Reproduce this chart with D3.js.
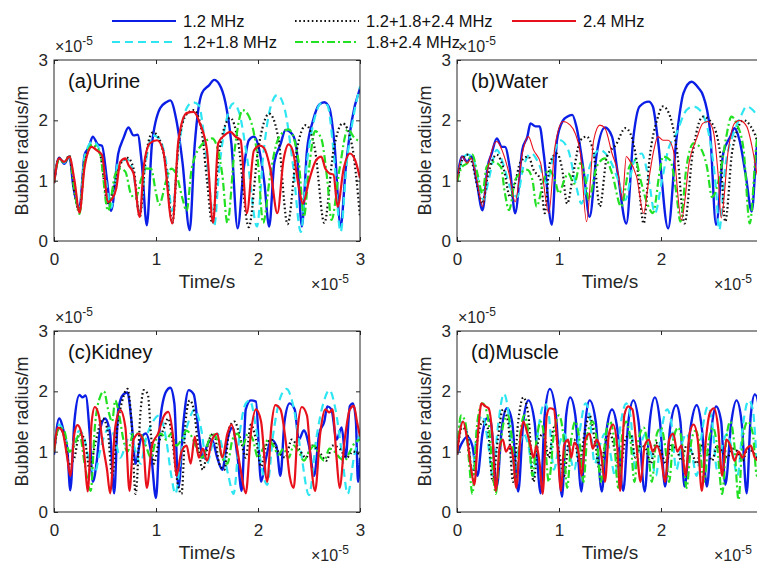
<!DOCTYPE html>
<html>
<head>
<meta charset="utf-8">
<script src="https://cdn.jsdelivr.net/npm/d3@7"></script>
<style>
  body { margin: 0; background: #fff; }
  text { font-family: "Liberation Sans", Arial, sans-serif; }
</style>
</head>
<body>
<div id="chart"></div>
<script>
// series names (legend) and panel titles
const seriesNames = ["1.2 MHz", "1.2+1.8 MHz", "1.2+1.8+2.4 MHz", "1.8+2.4 MHz", "2.4 MHz"];
const panelTitles = ["(a)Urine", "(b)Water", "(c)Kidney", "(d)Muscle"];
const tickValues = [0, 1, 2, 3];

// [time (x1e-5 s), radius (x1e-5 m)]
const urine12 = [[0,0.96],[0.05,1.38],[0.1,1.28],[0.15,1.4],[0.19,0.9],[0.25,0.55],[0.3,1.43],[0.34,1.55],[0.38,1.73],[0.43,1.6],[0.47,1.58],[0.52,1.0],[0.56,0.5],[0.63,1.45],[0.68,1.7],[0.73,1.88],[0.78,1.75],[0.82,1.76],[0.86,1.3],[0.91,0.26],[0.96,1.6],[1.04,2.2],[1.1,2.3],[1.14,2.33],[1.2,2.0],[1.26,1.3],[1.33,0.18],[1.38,1.6],[1.45,2.45],[1.52,2.58],[1.57,2.67],[1.62,2.6],[1.68,2.3],[1.74,1.6],[1.8,0.21],[1.86,1.2],[1.91,1.67],[1.96,1.73],[2.0,1.6],[2.06,1.0],[2.11,0.24],[2.16,1.3],[2.22,1.6],[2.27,1.84],[2.34,1.76],[2.38,1.5],[2.43,0.24],[2.48,1.5],[2.54,2.0],[2.6,2.26],[2.65,2.3],[2.7,2.2],[2.75,1.6],[2.81,0.24],[2.86,1.2],[2.92,2.0],[3.0,2.53]];
const urine1218 = [[0,0.96],[0.05,1.37],[0.1,1.3],[0.15,1.4],[0.2,0.95],[0.25,0.52],[0.3,1.4],[0.38,1.65],[0.45,1.5],[0.52,0.9],[0.56,0.55],[0.63,1.3],[0.72,1.35],[0.78,1.1],[0.84,0.45],[0.9,1.3],[0.97,1.75],[1.03,1.7],[1.1,1.3],[1.16,0.5],[1.22,1.5],[1.3,2.2],[1.36,2.3],[1.42,2.25],[1.48,1.6],[1.53,0.8],[1.57,0.24],[1.62,1.2],[1.69,2.0],[1.76,2.28],[1.82,2.1],[1.9,1.3],[1.99,0.24],[2.05,1.4],[2.12,2.2],[2.19,2.42],[2.26,2.2],[2.34,1.3],[2.42,0.15],[2.48,1.3],[2.55,2.0],[2.62,2.28],[2.68,2.25],[2.74,1.5],[2.81,0.15],[2.87,1.3],[2.94,2.1],[3.0,2.56]];
const urine121824 = [[0,0.96],[0.05,1.37],[0.1,1.3],[0.15,1.42],[0.2,0.8],[0.25,0.5],[0.3,1.3],[0.38,1.58],[0.45,1.45],[0.53,0.6],[0.6,1.0],[0.66,1.3],[0.72,1.38],[0.78,1.2],[0.84,0.4],[0.9,1.4],[0.97,1.8],[1.03,1.7],[1.1,1.2],[1.16,0.3],[1.22,1.6],[1.3,2.1],[1.37,2.17],[1.44,1.9],[1.5,1.0],[1.55,0.3],[1.62,1.5],[1.73,2.04],[1.8,1.7],[1.91,0.23],[2.0,1.5],[2.11,2.11],[2.2,1.7],[2.29,0.28],[2.38,1.5],[2.47,1.92],[2.56,1.5],[2.65,0.3],[2.74,1.5],[2.83,1.95],[2.92,1.6],[3.0,0.4]];
const urine1824 = [[0,0.96],[0.05,1.35],[0.1,1.3],[0.15,1.4],[0.2,0.85],[0.25,0.45],[0.3,1.3],[0.38,1.6],[0.45,1.45],[0.53,0.5],[0.6,1.1],[0.65,1.2],[0.7,1.15],[0.75,0.8],[0.8,0.7],[0.85,1.0],[0.9,1.2],[0.95,1.2],[1.0,0.8],[1.03,0.6],[1.1,1.0],[1.15,1.2],[1.2,1.1],[1.26,0.7],[1.3,0.5],[1.35,1.2],[1.45,1.6],[1.55,1.7],[1.65,1.1],[1.7,0.3],[1.77,1.5],[1.85,2.17],[1.9,2.1],[2.0,1.3],[2.05,0.3],[2.12,1.1],[2.2,1.7],[2.3,1.85],[2.4,1.3],[2.45,0.4],[2.5,1.2],[2.56,1.82],[2.62,1.7],[2.68,1.0],[2.72,0.35],[2.8,1.2],[2.88,1.85],[2.95,1.7],[3.0,1.65]];
const urine24 = [[0,0.96],[0.05,1.37],[0.1,1.31],[0.15,1.4],[0.2,1.01],[0.25,0.47],[0.3,1.23],[0.37,1.56],[0.42,1.5],[0.47,1.43],[0.53,0.65],[0.57,0.7],[0.61,0.87],[0.65,1.31],[0.7,1.37],[0.73,1.26],[0.78,1.12],[0.84,0.4],[0.88,1.23],[0.94,1.62],[1.01,1.67],[1.07,1.5],[1.16,0.29],[1.22,1.67],[1.3,2.12],[1.37,2.14],[1.43,1.95],[1.5,1.5],[1.56,0.3],[1.61,1.62],[1.67,1.75],[1.73,1.81],[1.78,1.73],[1.83,1.67],[1.89,0.46],[1.96,1.5],[2.02,1.58],[2.06,1.54],[2.12,1.2],[2.19,0.46],[2.25,1.34],[2.3,1.6],[2.34,1.5],[2.4,0.9],[2.44,0.62],[2.5,1.0],[2.57,1.34],[2.62,1.4],[2.66,1.2],[2.7,1.12],[2.74,1.1],[2.78,0.57],[2.84,1.2],[2.9,1.45],[2.95,1.35],[3.0,1.04]];

const water12 = [[0,0.98],[0.05,1.4],[0.1,1.31],[0.14,1.4],[0.19,1.01],[0.25,0.51],[0.3,1.23],[0.34,1.45],[0.39,1.7],[0.44,1.56],[0.47,1.56],[0.52,1.18],[0.57,0.46],[0.64,1.51],[0.69,1.73],[0.72,1.95],[0.77,1.9],[0.81,1.9],[0.85,1.45],[0.93,0.27],[0.98,1.67],[1.04,2.0],[1.08,2.06],[1.13,2.09],[1.17,1.9],[1.24,1.18],[1.3,0.4],[1.37,1.45],[1.45,1.88],[1.52,1.73],[1.58,1.07],[1.66,0.29],[1.73,1.73],[1.79,2.23],[1.88,2.31],[1.92,2.23],[1.97,1.67],[2.07,0.21],[2.15,1.67],[2.22,2.45],[2.3,2.64],[2.37,2.53],[2.41,2.42],[2.48,1.84],[2.54,0.27],[2.61,1.45],[2.68,1.73],[2.72,1.87],[2.77,1.67],[2.83,1.1],[2.89,0.49],[2.94,1.56],[3.0,1.9]];
const water1218 = [[0,0.98],[0.05,1.34],[0.1,1.43],[0.15,1.4],[0.2,1.07],[0.26,0.68],[0.31,1.01],[0.39,1.51],[0.45,1.29],[0.52,0.9],[0.59,0.73],[0.65,1.23],[0.73,1.45],[0.8,1.29],[0.88,0.96],[0.95,1.45],[1.01,1.67],[1.09,1.51],[1.17,0.9],[1.22,0.62],[1.3,1.23],[1.4,1.51],[1.5,1.34],[1.58,1.01],[1.65,0.68],[1.73,1.29],[1.81,1.45],[1.88,1.01],[1.94,0.46],[2.01,1.01],[2.07,1.51],[2.15,1.78],[2.25,2.17],[2.32,2.23],[2.38,2.17],[2.48,1.67],[2.54,0.85],[2.57,0.18],[2.63,1.23],[2.71,1.78],[2.78,2.06],[2.84,2.23],[2.9,2.17],[3.0,1.9]];
const water121824 = [[0,0.98],[0.05,1.34],[0.1,1.43],[0.15,1.29],[0.2,0.9],[0.25,0.62],[0.3,1.07],[0.39,1.43],[0.46,1.18],[0.52,0.73],[0.57,0.96],[0.62,1.3],[0.7,1.4],[0.75,1.18],[0.82,1.01],[0.86,0.46],[0.91,1.29],[0.98,1.45],[1.03,1.2],[1.08,0.62],[1.14,1.12],[1.21,1.67],[1.27,1.73],[1.34,1.45],[1.4,0.57],[1.47,1.4],[1.56,1.6],[1.65,1.87],[1.7,1.78],[1.76,1.34],[1.83,0.29],[1.89,1.4],[1.96,2.0],[2.02,2.23],[2.09,2.06],[2.16,1.45],[2.23,0.29],[2.31,1.45],[2.41,2.06],[2.5,1.95],[2.58,1.45],[2.63,0.32],[2.7,1.51],[2.81,2.0],[2.88,1.9],[2.94,1.67],[3.0,1.2]];
const water1824 = [[0,0.98],[0.05,1.23],[0.1,1.29],[0.15,1.43],[0.2,1.12],[0.25,0.79],[0.29,1.23],[0.36,1.31],[0.43,1.23],[0.47,0.79],[0.51,0.51],[0.57,1.01],[0.62,1.12],[0.69,1.18],[0.74,1.01],[0.78,0.57],[0.85,1.01],[0.9,1.18],[0.96,1.01],[1.0,0.79],[1.05,1.0],[1.09,1.12],[1.15,0.95],[1.21,1.29],[1.26,1.01],[1.29,0.68],[1.37,1.23],[1.45,1.37],[1.52,1.12],[1.61,0.57],[1.69,1.23],[1.75,1.34],[1.8,1.01],[1.87,0.6],[1.92,0.46],[1.99,1.18],[2.02,1.4],[2.09,1.34],[2.15,0.8],[2.19,0.32],[2.25,1.23],[2.32,1.62],[2.38,1.56],[2.45,1.23],[2.5,0.73],[2.58,1.12],[2.64,1.73],[2.69,2.06],[2.74,1.95],[2.81,1.51],[2.87,0.29],[2.94,1.67],[3.0,2.0]];
const water24 = [[0,0.98],[0.05,1.4],[0.1,1.29],[0.14,1.37],[0.2,0.96],[0.25,0.57],[0.3,1.18],[0.39,1.65],[0.44,1.51],[0.51,1.12],[0.57,0.65],[0.64,1.45],[0.7,1.73],[0.75,1.51],[0.82,1.29],[0.9,0.46],[0.96,1.56],[1.04,1.98],[1.11,1.92],[1.16,1.78],[1.21,1.45],[1.27,0.32],[1.34,1.67],[1.4,1.92],[1.45,1.87],[1.52,1.45],[1.58,1.12],[1.62,0.68],[1.66,1.4],[1.69,1.34],[1.76,1.07],[1.83,0.46],[1.88,1.01],[1.93,1.51],[1.97,1.73],[2.02,1.67],[2.07,1.67],[2.12,1.51],[2.2,0.35],[2.28,1.34],[2.35,1.7],[2.41,1.95],[2.46,1.98],[2.51,1.84],[2.56,1.1],[2.59,0.38],[2.66,1.51],[2.72,1.95],[2.77,2.0],[2.84,1.9],[2.9,1.5],[2.94,1.12],[3.0,0.9]];

const kidney12 = [[0,0.95],[0.05,1.55],[0.1,1.3],[0.13,1.05],[0.16,0.36],[0.2,1.5],[0.25,1.94],[0.28,1.9],[0.31,1.93],[0.35,1.3],[0.38,0.5],[0.42,0.85],[0.45,1.35],[0.5,1.55],[0.55,1.3],[0.59,0.31],[0.63,1.7],[0.68,1.95],[0.72,1.98],[0.76,1.5],[0.8,0.8],[0.85,1.2],[0.9,1.3],[0.95,1.0],[1.0,0.23],[1.04,1.5],[1.1,2.0],[1.14,2.06],[1.18,1.8],[1.22,0.4],[1.27,1.5],[1.32,2.02],[1.37,1.95],[1.42,1.3],[1.46,0.9],[1.5,1.1],[1.55,1.2],[1.6,0.9],[1.65,0.7],[1.7,1.2],[1.75,1.4],[1.8,0.9],[1.84,0.35],[1.88,1.7],[1.93,1.85],[1.98,1.83],[2.03,0.5],[2.08,0.9],[2.13,1.2],[2.18,1.1],[2.22,0.6],[2.26,1.5],[2.31,1.8],[2.36,1.7],[2.4,1.2],[2.45,1.35],[2.5,1.1],[2.55,0.6],[2.6,1.3],[2.65,1.5],[2.68,1.75],[2.72,1.7],[2.77,1.2],[2.82,1.4],[2.86,0.9],[2.9,1.75],[2.93,1.8],[2.96,1.5],[2.98,0.5],[3.0,0.9]];
const kidney1218 = [[0,1.0],[0.05,1.45],[0.1,1.3],[0.15,1.0],[0.2,1.2],[0.25,1.35],[0.3,1.2],[0.35,0.8],[0.4,0.65],[0.45,1.0],[0.5,1.3],[0.55,1.4],[0.6,1.2],[0.65,0.9],[0.7,1.1],[0.75,1.3],[0.8,1.0],[0.85,0.8],[0.9,1.2],[0.97,1.5],[1.03,1.6],[1.1,1.2],[1.15,0.6],[1.19,0.3],[1.25,1.0],[1.32,1.5],[1.38,1.7],[1.44,1.4],[1.5,0.8],[1.55,1.1],[1.6,1.3],[1.66,1.0],[1.71,0.6],[1.76,0.3],[1.82,1.3],[1.88,1.8],[1.92,1.85],[1.98,1.4],[2.04,0.7],[2.09,0.45],[2.15,1.3],[2.22,1.9],[2.28,2.04],[2.34,1.8],[2.42,1.0],[2.5,0.28],[2.57,1.2],[2.64,1.8],[2.7,2.02],[2.76,1.7],[2.82,1.0],[2.88,0.3],[2.94,0.9],[3.0,1.3]];
const kidney121824 = [[0,1.0],[0.05,1.4],[0.1,1.25],[0.15,0.8],[0.2,0.9],[0.25,1.3],[0.3,1.2],[0.35,0.7],[0.4,1.1],[0.48,1.55],[0.53,1.3],[0.57,0.6],[0.62,1.4],[0.67,1.85],[0.72,2.04],[0.76,1.5],[0.8,0.3],[0.85,1.7],[0.88,2.02],[0.92,1.95],[0.95,1.3],[0.98,0.8],[1.02,1.1],[1.08,1.4],[1.12,1.55],[1.16,1.2],[1.2,0.6],[1.25,0.3],[1.29,1.5],[1.33,1.85],[1.37,1.7],[1.42,1.0],[1.46,0.7],[1.52,1.2],[1.57,1.3],[1.62,0.8],[1.67,0.7],[1.72,1.4],[1.77,1.5],[1.83,1.2],[1.88,0.9],[1.93,1.45],[1.98,1.2],[2.03,0.75],[2.08,1.1],[2.13,1.2],[2.2,1.0],[2.27,0.9],[2.33,1.2],[2.4,1.05],[2.47,0.9],[2.53,1.1],[2.6,1.0],[2.67,0.85],[2.73,1.1],[2.8,1.05],[2.87,0.9],[2.93,1.0],[3.0,0.95]];
const kidney1824 = [[0,1.0],[0.05,1.4],[0.1,1.35],[0.15,1.0],[0.2,1.1],[0.25,1.3],[0.3,0.8],[0.36,0.35],[0.4,1.4],[0.45,1.9],[0.49,2.0],[0.53,1.7],[0.57,1.5],[0.6,1.85],[0.64,1.6],[0.68,1.2],[0.72,1.0],[0.78,1.3],[0.84,1.3],[0.9,1.1],[0.95,0.9],[1.0,1.2],[1.05,1.3],[1.1,1.2],[1.15,1.3],[1.2,1.1],[1.25,1.2],[1.3,1.35],[1.35,1.25],[1.4,1.05],[1.45,0.9],[1.5,1.1],[1.55,1.3],[1.6,1.2],[1.65,0.9],[1.7,0.8],[1.75,1.2],[1.8,1.3],[1.85,1.1],[1.9,1.3],[1.95,1.2],[2.0,0.9],[2.05,1.05],[2.1,1.2],[2.15,1.1],[2.2,0.95],[2.25,1.05],[2.3,0.9],[2.35,1.1],[2.4,1.0],[2.45,0.85],[2.5,1.0],[2.55,1.1],[2.6,0.95],[2.65,0.85],[2.7,1.05],[2.75,1.0],[2.8,0.9],[2.85,0.85],[2.9,1.0],[2.95,1.15],[3.0,1.2]];
const kidney24 = [[0,1.0],[0.04,1.4],[0.08,1.35],[0.13,0.9],[0.16,0.6],[0.2,1.3],[0.23,1.44],[0.27,1.3],[0.3,0.9],[0.33,0.34],[0.37,1.5],[0.4,1.74],[0.44,1.6],[0.48,1.1],[0.52,0.7],[0.55,0.31],[0.6,1.4],[0.65,1.69],[0.7,1.4],[0.74,0.35],[0.78,1.2],[0.83,1.3],[0.87,1.2],[0.91,0.4],[0.96,1.1],[1.02,1.3],[1.08,1.6],[1.12,1.66],[1.17,1.2],[1.2,0.6],[1.25,1.0],[1.3,1.1],[1.34,0.8],[1.38,1.25],[1.42,0.9],[1.46,1.05],[1.5,0.85],[1.55,1.2],[1.6,1.3],[1.65,0.9],[1.7,1.3],[1.74,1.45],[1.78,1.2],[1.83,0.7],[1.88,0.31],[1.93,1.3],[1.98,1.7],[2.03,1.5],[2.09,0.5],[2.13,1.4],[2.17,1.77],[2.22,1.7],[2.27,1.2],[2.31,0.6],[2.35,0.4],[2.39,1.4],[2.43,1.74],[2.48,1.6],[2.52,0.8],[2.56,0.35],[2.61,1.3],[2.66,1.7],[2.7,1.65],[2.73,1.7],[2.77,0.9],[2.8,0.4],[2.85,1.2],[2.9,1.7],[2.94,1.76],[2.97,1.5],[3.0,1.25]];

const muscle12 = [[0,0.95],[0.05,1.15],[0.1,1.25],[0.15,1.1],[0.2,0.6],[0.25,1.3],[0.29,1.55],[0.33,1.5],[0.39,0.42],[0.44,1.4],[0.49,1.72],[0.54,1.5],[0.6,0.34],[0.65,1.5],[0.7,1.85],[0.76,1.5],[0.82,0.31],[0.86,1.6],[0.91,2.04],[0.97,1.6],[1.03,0.25],[1.07,1.6],[1.11,1.9],[1.16,1.6],[1.22,0.34],[1.26,1.5],[1.3,1.85],[1.36,1.5],[1.42,0.34],[1.47,1.4],[1.52,1.7],[1.57,1.4],[1.63,0.35],[1.68,1.5],[1.73,1.85],[1.78,1.5],[1.84,0.34],[1.89,1.5],[1.94,1.9],[1.99,1.5],[2.04,0.42],[2.09,1.4],[2.15,1.77],[2.19,1.5],[2.23,0.42],[2.29,1.4],[2.35,1.77],[2.4,1.4],[2.45,0.42],[2.5,1.45],[2.54,1.75],[2.59,1.5],[2.63,0.45],[2.69,1.5],[2.74,1.85],[2.79,1.5],[2.84,0.31],[2.88,1.6],[2.92,1.95],[2.97,1.6],[3.0,1.0]];
const muscle1218 = [[0,0.95],[0.05,1.5],[0.1,1.3],[0.15,0.7],[0.2,1.4],[0.25,1.6],[0.3,1.2],[0.35,0.6],[0.4,1.4],[0.46,1.96],[0.5,1.7],[0.55,0.8],[0.6,1.0],[0.65,1.3],[0.7,1.1],[0.75,0.6],[0.8,1.4],[0.86,1.8],[0.9,1.6],[0.95,0.7],[1.0,1.1],[1.05,1.3],[1.1,1.0],[1.15,0.7],[1.2,1.3],[1.26,1.8],[1.3,1.6],[1.35,0.8],[1.4,1.1],[1.45,1.3],[1.5,1.0],[1.55,0.6],[1.6,1.4],[1.66,1.8],[1.7,1.6],[1.75,0.7],[1.8,1.1],[1.85,1.3],[1.9,1.0],[1.95,0.6],[2.0,1.3],[2.06,1.7],[2.1,1.5],[2.15,0.7],[2.2,1.1],[2.25,1.3],[2.3,1.0],[2.35,0.6],[2.4,1.3],[2.46,1.75],[2.5,1.5],[2.55,0.7],[2.6,1.1],[2.65,1.3],[2.7,1.0],[2.75,0.6],[2.8,1.4],[2.86,1.85],[2.9,1.7],[2.95,0.8],[3.0,1.1]];
const muscle121824 = [[0,0.95],[0.05,1.4],[0.1,1.3],[0.15,0.6],[0.2,1.2],[0.25,1.5],[0.3,1.4],[0.35,0.5],[0.4,1.2],[0.45,1.7],[0.5,1.5],[0.55,0.5],[0.6,1.5],[0.65,1.9],[0.7,1.6],[0.75,0.5],[0.8,1.2],[0.85,1.3],[0.9,0.9],[0.95,1.4],[1.0,1.0],[1.05,0.6],[1.1,1.2],[1.15,1.2],[1.2,0.8],[1.25,1.3],[1.3,1.6],[1.35,1.2],[1.4,0.7],[1.45,1.1],[1.5,1.3],[1.55,1.0],[1.6,0.7],[1.65,1.2],[1.7,1.3],[1.75,0.9],[1.8,1.1],[1.85,1.05],[1.9,0.8],[1.95,1.15],[2.0,1.0],[2.05,0.8],[2.1,1.1],[2.15,1.05],[2.2,0.85],[2.25,1.1],[2.3,1.0],[2.35,0.8],[2.4,1.1],[2.45,1.05],[2.5,0.85],[2.55,1.1],[2.6,1.0],[2.65,0.9],[2.7,1.05],[2.75,1.0],[2.8,0.85],[2.85,1.05],[2.9,1.0],[2.95,0.9],[3.0,1.0]];
const muscle1824 = [[0,0.95],[0.04,1.6],[0.08,1.5],[0.12,0.8],[0.15,0.3],[0.2,1.5],[0.25,1.8],[0.3,1.6],[0.35,0.7],[0.38,0.3],[0.42,1.0],[0.46,1.5],[0.5,1.6],[0.54,1.2],[0.58,0.5],[0.62,1.3],[0.66,1.6],[0.7,1.3],[0.74,0.6],[0.78,1.2],[0.82,1.5],[0.86,1.2],[0.9,0.5],[0.95,1.3],[1.0,1.6],[1.04,1.3],[1.08,0.4],[1.12,1.2],[1.16,1.5],[1.2,1.2],[1.24,0.5],[1.28,1.3],[1.33,1.5],[1.37,1.2],[1.41,0.5],[1.46,1.3],[1.5,1.5],[1.54,1.2],[1.58,0.4],[1.62,1.3],[1.66,1.5],[1.7,1.2],[1.74,0.5],[1.78,1.2],[1.83,1.4],[1.87,1.1],[1.91,0.5],[1.96,1.3],[2.0,1.4],[2.04,1.1],[2.08,0.5],[2.12,1.2],[2.17,1.4],[2.21,1.1],[2.25,0.4],[2.3,1.2],[2.34,1.35],[2.38,1.1],[2.42,0.5],[2.47,1.2],[2.51,1.4],[2.55,1.1],[2.6,0.3],[2.64,1.2],[2.68,1.5],[2.72,1.1],[2.76,0.2],[2.8,1.2],[2.85,1.5],[2.9,1.3],[2.94,0.6],[3.0,1.4]];
const muscle24 = [[0,0.95],[0.03,1.35],[0.06,1.5],[0.1,1.2],[0.14,0.7],[0.17,0.45],[0.21,1.4],[0.24,1.8],[0.28,1.75],[0.31,1.72],[0.35,1.2],[0.38,0.35],[0.42,1.1],[0.45,1.2],[0.48,1.0],[0.52,1.1],[0.55,0.9],[0.58,0.4],[0.62,1.2],[0.65,1.5],[0.69,1.3],[0.72,1.1],[0.75,0.9],[0.78,1.1],[0.81,0.8],[0.84,0.3],[0.88,1.6],[0.91,1.72],[0.95,1.7],[0.98,1.2],[1.02,0.35],[1.05,1.1],[1.09,1.2],[1.12,0.9],[1.15,1.15],[1.19,1.0],[1.22,0.6],[1.26,1.2],[1.3,1.3],[1.33,1.05],[1.37,1.2],[1.41,1.0],[1.45,0.5],[1.49,1.3],[1.53,1.45],[1.57,1.1],[1.6,0.35],[1.64,1.6],[1.68,1.75],[1.72,1.7],[1.76,1.1],[1.8,0.5],[1.84,1.1],[1.88,1.2],[1.92,1.0],[1.96,1.1],[2.0,0.9],[2.04,0.5],[2.08,1.2],[2.12,1.3],[2.16,1.0],[2.2,1.1],[2.24,0.6],[2.28,1.3],[2.32,1.45],[2.36,1.2],[2.4,0.35],[2.44,1.2],[2.48,1.65],[2.52,1.72],[2.56,1.4],[2.6,0.6],[2.64,1.2],[2.68,1.1],[2.72,0.85],[2.76,1.0],[2.8,0.9],[2.84,1.05],[2.88,1.1],[2.92,0.9],[2.96,0.85],[3.0,1.0]];

// line styles in legend order
const lineStyles = [
  { color: "#0a1ee6", width: 2.4, dash: null },
  { color: "#2ee6f2", width: 2.2, dash: "8,5" },
  { color: "#111111", width: 2.2, dash: "1.6,2.6" },
  { color: "#22e022", width: 2.2, dash: "8,3,2,3" },
  { color: "#e8101a", width: 2.2, dash: null }
];

const panels = [
  { title: panelTitles[0], left: 54,  top: 60,  series: [urine12, urine1218, urine121824, urine1824, urine24], redWidth: 2.2 },
  { title: panelTitles[1], left: 457, top: 60,  series: [water12, water1218, water121824, water1824, water24], redWidth: 1.1 },
  { title: panelTitles[2], left: 54,  top: 331, series: [kidney12, kidney1218, kidney121824, kidney1824, kidney24], redWidth: 2.2 },
  { title: panelTitles[3], left: 457, top: 331, series: [muscle12, muscle1218, muscle121824, muscle1824, muscle24], redWidth: 2.2 }
];

const W = 757, H = 565;
const pw = 306, ph = 181;
const axisColor = "#262626";

const svg = d3.select("#chart").append("svg")
  .attr("width", W)
  .attr("height", H);

panels.forEach(function(p, i) {
  const g = svg.append("g").attr("transform", "translate(" + p.left + "," + p.top + ")");

  const x = d3.scaleLinear().domain([0, 3]).range([0, pw]);
  const y = d3.scaleLinear().domain([0, 3]).range([ph, 0]);

  g.append("clipPath").attr("id", "clip" + i)
    .append("rect").attr("width", pw).attr("height", ph);

  const line = d3.line()
    .x(d => x(d[0]))
    .y(d => y(d[1]))
    .curve(d3.curveMonotoneX);

  const lines = g.append("g").attr("clip-path", "url(#clip" + i + ")");
  p.series.forEach(function(s, k) {
    const st = lineStyles[k];
    lines.append("path")
      .datum(s)
      .attr("fill", "none")
      .attr("stroke", st.color)
      .attr("stroke-width", k === 4 ? p.redWidth : st.width)
      .attr("stroke-dasharray", st.dash)
      .attr("stroke-linejoin", "round")
      .attr("d", line);
  });

  // axes, MATLAB style: inward ticks on all four sides
  const xAxis = g.append("g").attr("transform", "translate(0," + ph + ")")
    .call(d3.axisBottom(x).tickValues(tickValues).tickFormat(d3.format("d"))
      .tickSizeInner(-4).tickSizeOuter(0).tickPadding(12));
  const yAxis = g.append("g")
    .call(d3.axisLeft(y).tickValues(tickValues).tickFormat(d3.format("d"))
      .tickSizeInner(-4).tickSizeOuter(0).tickPadding(6));
  const xTop = g.append("g")
    .call(d3.axisTop(x).tickValues(tickValues).tickFormat("").tickSizeInner(-4).tickSizeOuter(0));
  const yRight = g.append("g").attr("transform", "translate(" + pw + ",0)")
    .call(d3.axisRight(y).tickValues(tickValues).tickFormat("").tickSizeInner(-4).tickSizeOuter(0));

  [xAxis, yAxis, xTop, yRight].forEach(a => {
    a.select(".domain").remove();
    a.selectAll("line").attr("stroke", axisColor);
    a.selectAll("text")
      .attr("fill", axisColor)
      .style("font-size", "17px")
      .style("font-family", "'Liberation Sans', Arial, sans-serif");
  });

  g.append("rect")
    .attr("width", pw).attr("height", ph)
    .attr("fill", "none")
    .attr("stroke", axisColor)
    .attr("stroke-width", 1);

  // panel title
  g.append("text")
    .attr("x", 14).attr("y", 28)
    .style("font-size", "20px")
    .attr("fill", "#111")
    .text(p.title);

  // y label
  g.append("text")
    .attr("transform", "translate(-26," + (ph / 2) + ") rotate(-90)")
    .attr("text-anchor", "middle")
    .style("font-size", "18px")
    .attr("fill", axisColor)
    .text("Bubble radius/m");

  // x label
  g.append("text")
    .attr("x", pw / 2).attr("y", ph + 47)
    .attr("text-anchor", "middle")
    .style("font-size", "19px")
    .attr("fill", axisColor)
    .text("Time/s");

  // exponent labels
  const expY = g.append("text")
    .attr("x", 1).attr("y", -8)
    .style("font-size", "16px")
    .attr("fill", axisColor);
  expY.append("tspan").text("\u00d710");
  expY.append("tspan").attr("dy", -7).style("font-size", "12px").text("-5");

  const expX = g.append("text")
    .attr("x", pw - 49).attr("y", ph + 49)
    .style("font-size", "16px")
    .attr("fill", axisColor);
  expX.append("tspan").text("\u00d710");
  expX.append("tspan").attr("dy", -7).style("font-size", "12px").text("-5");
});

// legend: three columns, two rows
const legendPos = [
  { x: 112, y: 21 },
  { x: 112, y: 42 },
  { x: 295, y: 21 },
  { x: 295, y: 42 },
  { x: 512, y: 21 }
];
const legend = svg.append("g");
seriesNames.forEach(function(name, k) {
  const st = lineStyles[k];
  const pos = legendPos[k];
  legend.append("line")
    .attr("x1", pos.x).attr("x2", pos.x + 64)
    .attr("y1", pos.y).attr("y2", pos.y)
    .attr("stroke", st.color)
    .attr("stroke-width", 2.2)
    .attr("stroke-dasharray", st.dash);
  legend.append("text")
    .attr("x", pos.x + 71).attr("y", pos.y + 6)
    .style("font-size", "16.5px")
    .attr("fill", "#111")
    .text(name);
});
</script>
</body>
</html>
